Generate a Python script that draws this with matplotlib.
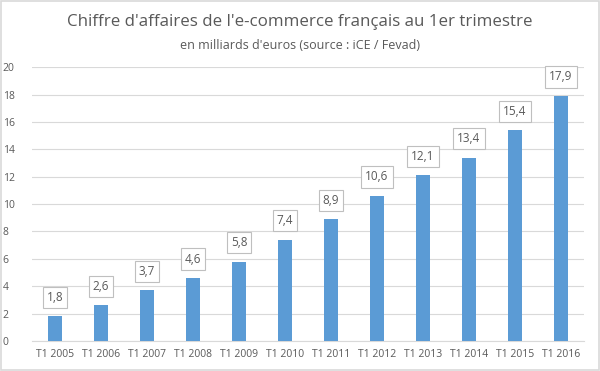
import matplotlib
matplotlib.use("Agg")
import matplotlib.pyplot as plt
from matplotlib.patches import Rectangle

categories = ["T1 2005", "T1 2006", "T1 2007", "T1 2008", "T1 2009", "T1 2010",
              "T1 2011", "T1 2012", "T1 2013", "T1 2014", "T1 2015", "T1 2016"]
values = [1.8, 2.6, 3.7, 4.6, 5.8, 7.4, 8.9, 10.6, 12.1, 13.4, 15.4, 17.9]
yticks = [0, 2, 4, 6, 8, 10, 12, 14, 16, 18, 20]

plt.rcParams['font.family'] = ['Open Sans', 'DejaVu Sans']
grey = '#595959'

fig = plt.figure(figsize=(6, 3.71), dpi=100)
fig.patches.append(Rectangle((0.002, 0.003), 0.996, 0.994, transform=fig.transFigure,
                             fill=False, edgecolor='#d9d9d9', linewidth=1.2))
ax = fig.add_axes([0.0533, 0.0809, 0.92, 0.738])

x = range(len(categories))
ax.bar(x, values, width=0.3, color='#5b9bd5', zorder=3)
ax.set_xlim(-0.5, len(categories) - 0.5)
ax.set_ylim(0, 20)
ax.set_yticks(yticks)
ax.set_yticklabels([str(t) for t in yticks])
ax.set_xticks(list(x))
ax.set_xticklabels(categories)
ax.tick_params(axis='both', length=0, labelsize=7.5, colors=grey)
ax.tick_params(axis='x', pad=6)
for lab in ax.get_yticklabels():
    lab.set_horizontalalignment('left')
ax.yaxis.set_tick_params(pad=21)
ax.grid(axis='y', color='#d9d9d9', linewidth=0.8, zorder=0)
for s in ['top', 'right', 'left']:
    ax.spines[s].set_visible(False)
ax.spines['bottom'].set_color('#d9d9d9')

for xi, v in zip(x, values):
    ax.annotate(f"{v:.1f}".replace('.', ','), (xi, v), xytext=(0, 9),
                textcoords='offset points', ha='center', va='bottom',
                fontsize=8.5, color=grey, zorder=4,
                bbox=dict(boxstyle='square,pad=0.35', facecolor='white',
                          edgecolor='#bfbfbf', linewidth=0.8))

fig.text(0.5, 0.94, "Chiffre d'affaires de l'e-commerce français au 1er trimestre",
         ha='center', va='center', fontsize=12.2, color=grey)
fig.text(0.5, 0.878, "en milliards d'euros (source : iCE / Fevad)",
         ha='center', va='center', fontsize=9, color=grey)

fig.savefig("out.png", dpi=100)
